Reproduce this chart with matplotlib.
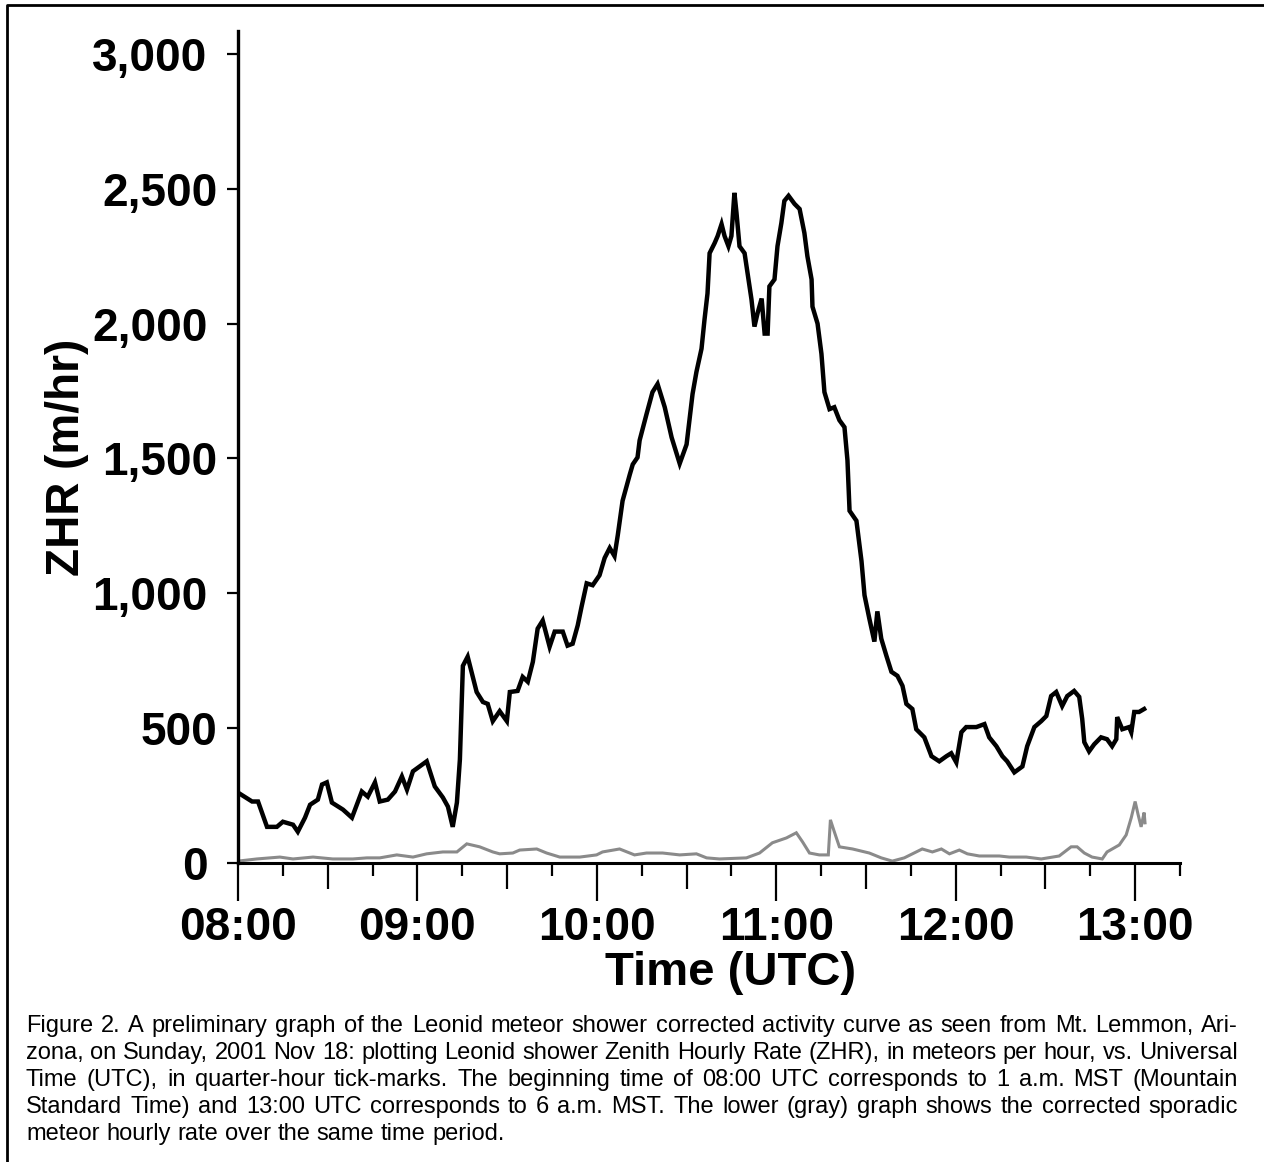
import matplotlib
matplotlib.use("Agg")
import matplotlib.pyplot as plt
from matplotlib.lines import Line2D

plt.rcParams['font.family'] = ['Liberation Sans', 'DejaVu Sans']

# Leonid ZHR, minutes after 08:00 UTC
leonid_min = [0, 4.7, 6.7, 9.7, 13.0, 15.0, 18.4, 20.0, 22.4, 24.1, 26.7, 28.1, 29.7, 31.4,
              35.1, 38.1, 41.4, 43.4, 45.8, 47.4, 50.1, 52.5, 54.8, 56.5, 58.5, 63.1, 65.8,
              68.5, 70.2, 71.8, 73.2, 74.2, 75.2, 76.8, 79.8, 81.9, 83.5, 85.2, 87.5, 89.9,
              90.9, 93.5, 95.2, 96.9, 98.6, 100.2, 101.9, 104.2, 105.9, 108.6, 110.2, 111.9,
              113.6, 114.9, 116.6, 118.6, 120.9, 122.6, 124.3, 125.9, 127.0, 128.6, 131.0,
              132.0, 133.6, 134.3, 136.6, 138.6, 140.3, 142.7, 145.0, 147.7, 150.0, 152.0,
              153.3, 155.0, 156.0, 157.0, 157.7, 159.4, 160.4, 161.7, 162.7, 164.0, 165.0,
              166.0, 166.7, 167.7, 169.4, 170.4, 171.7, 172.7, 173.7, 175.1, 176.1, 177.1,
              177.7, 179.4, 180.4, 181.7, 182.7, 184.1, 186.1, 187.8, 189.4, 190.4, 191.8,
              192.1, 193.8, 195.1, 196.1, 197.8, 199.4, 201.1, 202.8, 203.8, 204.5, 206.8,
              208.5, 209.5, 211.1, 212.8, 213.8, 215.1, 216.8, 218.5, 220.5, 222.2, 223.5,
              225.5, 226.8, 229.5, 231.9, 234.5, 236.9, 238.5, 240.2, 241.9, 243.5, 246.9,
              249.6, 251.2, 253.6, 255.6, 257.2, 259.6, 262.3, 263.9, 266.3, 268.6, 270.3,
              271.9, 273.6, 275.6, 277.3, 279.6, 281.3, 282.3, 283.0, 284.6, 286.3, 288.6,
              290.6, 292.3, 293.7, 294.0, 295.7, 298.0, 298.7, 299.7, 301.3, 303.0]
leonid_zhr = [261, 228, 228, 134, 134, 153, 142, 116, 168, 216, 235, 291, 299, 224,
              198, 168, 265, 246, 299, 228, 235, 265, 321, 272, 340, 377, 284,
              243, 209, 134, 224, 384, 731, 765, 634, 597, 590, 526, 563, 526,
              634, 638, 690, 672, 746, 869, 899, 802, 858, 858, 806, 813,
              881, 951, 1037, 1030, 1067, 1131, 1168, 1138, 1216, 1343, 1440,
              1478, 1504, 1567, 1664, 1746, 1776, 1690, 1578, 1481, 1552, 1739,
              1821, 1907, 2015, 2112, 2261, 2299, 2325, 2369, 2325, 2287, 2325,
              2485, 2410, 2287, 2261, 2187, 2090, 1989, 2037, 2093, 1963, 1963,
              2138, 2164, 2287, 2373, 2455, 2474, 2444, 2425, 2336, 2250, 2164,
              2063, 2000, 1888, 1746, 1683, 1690, 1642, 1616, 1493, 1306, 1269,
              1119, 993, 907, 821, 933, 832, 769, 709, 694, 657, 590,
              571, 496, 466, 396, 377, 396, 407, 373, 485, 504, 504,
              515, 466, 433, 396, 377, 336, 358, 433, 504, 526, 545,
              619, 634, 582, 619, 638, 616, 534, 448, 414, 440, 466,
              459, 433, 459, 541, 496, 504, 485, 560, 560, 571]

# sporadic hourly rate (lower gray curve)
sporadic_min = [0, 6.3, 14.0, 18.4, 25.1, 31.7, 38.4, 43.1, 47.4, 53.1, 58.5, 63.1, 68.5,
                73.2, 76.5, 80.8, 85.2, 87.5, 91.9, 94.2, 99.9, 103.2, 107.6, 114.3, 119.9,
                121.9, 127.6, 132.6, 136.6, 142.0, 147.7, 153.3, 156.7, 161.0, 170.0, 174.4,
                178.7, 183.4, 186.7, 188.8, 191.1, 194.4, 197.4, 198.1, 199.4, 201.1, 205.5,
                211.1, 215.1, 218.8, 222.8, 228.8, 232.2, 235.2, 237.9, 241.2, 243.9, 247.9,
                254.6, 257.9, 263.6, 268.6, 274.6, 278.6, 280.6, 283.0, 285.6, 289.0, 290.6,
                294.7, 297.0, 298.7, 300.0, 301.0, 302.0, 303.0, 303.3]
sporadic_zhr = [7, 15, 22, 15, 22, 15, 15, 19, 19, 30, 22, 34, 41,
                41, 71, 60, 41, 34, 37, 48, 52, 37, 22, 22, 30,
                41, 52, 30, 37, 37, 30, 34, 19, 15, 19, 37,
                75, 93, 112, 78, 37, 30, 30, 160, 116, 60, 52,
                37, 19, 7, 19, 52, 41, 52, 34, 48, 34, 26,
                26, 22, 22, 15, 26, 60, 60, 37, 22, 15, 41,
                67, 104, 168, 228, 179, 134, 187, 149]

hour_labels = ["08:00", "09:00", "10:00", "11:00", "12:00", "13:00"]
zhr_ticks = [0, 500, 1000, 1500, 2000, 2500, 3000]
zhr_labels = ["0", "500", "1,000", "1,500", "2,000", "2,500", "3,000"]

caption_lines = [
    "Figure 2. A preliminary graph of the Leonid meteor shower corrected activity curve as seen from Mt. Lemmon, Ari-",
    "zona, on Sunday, 2001 Nov 18: plotting Leonid shower Zenith Hourly Rate (ZHR), in meteors per hour, vs. Universal",
    "Time (UTC), in quarter-hour tick-marks. The beginning time of 08:00 UTC corresponds to 1 a.m. MST (Mountain",
    "Standard Time) and 13:00 UTC corresponds to 6 a.m. MST. The lower (gray) graph shows the corrected sporadic",
    "meteor hourly rate over the same time period.",
]

W, H = 1264, 1162
fig = plt.figure(figsize=(W / 100, H / 100), dpi=100)
ax = fig.add_axes([238 / W, 1 - 863 / H, (1180 - 238) / W, (863 - 31) / H])

ax.plot(sporadic_min, sporadic_zhr, color="#8a8a8a", lw=2.2, solid_joinstyle="miter")
ax.plot(leonid_min, leonid_zhr, color="black", lw=3.2, solid_joinstyle="miter")

ax.set_xlim(0, 315)
ax.set_ylim(0, 3085)
for s in ["top", "right"]:
    ax.spines[s].set_visible(False)
ax.spines["left"].set_linewidth(2.4)
ax.spines["bottom"].set_linewidth(2.2)

# quarter-hour ticks, longer at half hours and longest at hours
qt = list(range(0, 316, 15))
ax.set_xticks(qt)
ax.set_xticklabels([hour_labels[m // 60] if m % 60 == 0 and m // 60 < len(hour_labels) else "" for m in qt])
ax.tick_params(axis="x", direction="out", length=8, width=1.6, pad=23, labelsize=33)
for m, tk in zip(qt, ax.xaxis.get_major_ticks()):
    if m % 60 == 0:
        tk.tick1line.set_markersize(27)
    elif m % 30 == 0:
        tk.tick1line.set_markersize(19)
    else:
        tk.tick1line.set_markersize(9.5)

ax.set_yticks(zhr_ticks)
ax.set_yticklabels(zhr_labels)
ax.tick_params(axis="y", direction="out", length=8, width=1.6, pad=10, labelsize=33)
for v, tk in zip(zhr_ticks, ax.yaxis.get_major_ticks()):
    if v % 1000 == 0:
        tk.tick1line.set_markersize(18)
        tk.set_pad(14)
    else:
        tk.tick1line.set_markersize(7.5)
        tk.set_pad(7)

for lab in ax.get_xticklabels() + ax.get_yticklabels():
    lab.set_fontweight("bold")

ax.set_xlabel("Time (UTC)", fontsize=34, fontweight="bold")
ax.xaxis.set_label_coords(0.523, -0.106)
ax.set_ylabel("ZHR (m/hr)", fontsize=33, fontweight="bold")
ax.yaxis.set_label_coords(-0.158, 0.488)

# frame around figure (only top and left edges fall inside the image)
fig.add_artist(Line2D([7 / W, 7 / W, 1.01], [-0.01, 1 - 5 / H, 1 - 5 / H],
                      transform=fig.transFigure, color="black", lw=2))

# justified caption
renderer = fig.canvas.get_renderer()
left, right = 26, 1238
cap_size = 17
base = [1032, 1059, 1086, 1113, 1140]
space = fig.text(0, 0, "a b", fontsize=cap_size)
ab = fig.text(0, 0, "ab", fontsize=cap_size)
space_w = space.get_window_extent(renderer).width - ab.get_window_extent(renderer).width
space.remove()
ab.remove()
for i, line in enumerate(caption_lines):
    words = line.split(" ")
    texts = [fig.text(0, 1 - base[i] / H, w, fontsize=cap_size, va="baseline", ha="left")
             for w in words]
    widths = [t.get_window_extent(renderer).width for t in texts]
    if i < len(caption_lines) - 1:
        gap = (right - left - sum(widths)) / (len(words) - 1)
    else:
        gap = space_w
    x = left
    for t, w in zip(texts, widths):
        t.set_x(x / W)
        x += w + gap

fig.savefig("out.png", dpi=100)
